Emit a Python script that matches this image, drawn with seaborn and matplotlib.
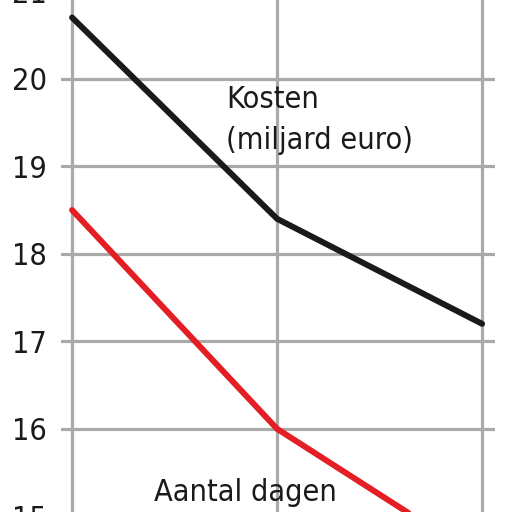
import matplotlib
matplotlib.use("Agg")
import matplotlib.pyplot as plt
import seaborn as sns
import pandas as pd

years = [0, 1, 2]
kosten = [20.7, 18.4, 17.2]
dagen = [18.5, 16.0, 14.5]
yticks = [15, 16, 17, 18, 19, 20, 21]

sns.set_theme(style="white")
plt.rcParams['font.family'] = ['DejaVu Sans']
plt.rcParams['font.stretch'] = 'condensed'

df = pd.DataFrame({"x": years * 2, "y": kosten + dagen,
                   "s": ["Kosten"] * 3 + ["Dagen"] * 3})

# visible range 15.05..20.9 over 512 px; axes extended beyond figure so the
# partially cut 15 and 21 labels are drawn like in the reference
ppu = 512 / (20.9 - 15.05)
y0, y1 = 14.8, 21.2
bottom = -(15.05 - y0) * ppu / 512
height = (y1 - y0) * ppu / 512

fig = plt.figure(figsize=(5.31, 5.12), dpi=100)
ax = fig.add_axes([61 / 531, bottom, (495 - 61) / 531, height])
sns.lineplot(data=df, x="x", y="y", hue="s",
             palette={"Kosten": "#1a1a1a", "Dagen": "#e31e24"},
             linewidth=4.3, legend=False, ax=ax, zorder=3)
ax.set_yticks(yticks)
ax.set_xticks(years)
ax.set_xticklabels([])
ax.set_xlim(-0.054, 2.063)
ax.set_ylim(y0, y1)
ax.grid(True, color="#aaaaaa", linewidth=2.3)
for s in ax.spines.values():
    s.set_visible(False)
ax.tick_params(axis="y", length=0, pad=10, labelsize=22, labelcolor="#1a1a1a")
ax.tick_params(axis="x", length=0)
ax.set_xlabel("")
ax.set_ylabel("")
ax.text(0.75, 19.53, "Kosten\n(miljard euro)", fontsize=22, color="#1a1a1a",
        ha="left", va="center", linespacing=1.55)
ax.text(0.4, 15.27, "Aantal dagen", fontsize=22, color="#1a1a1a",
        ha="left", va="center")
fig.savefig("out.png", dpi=100)
